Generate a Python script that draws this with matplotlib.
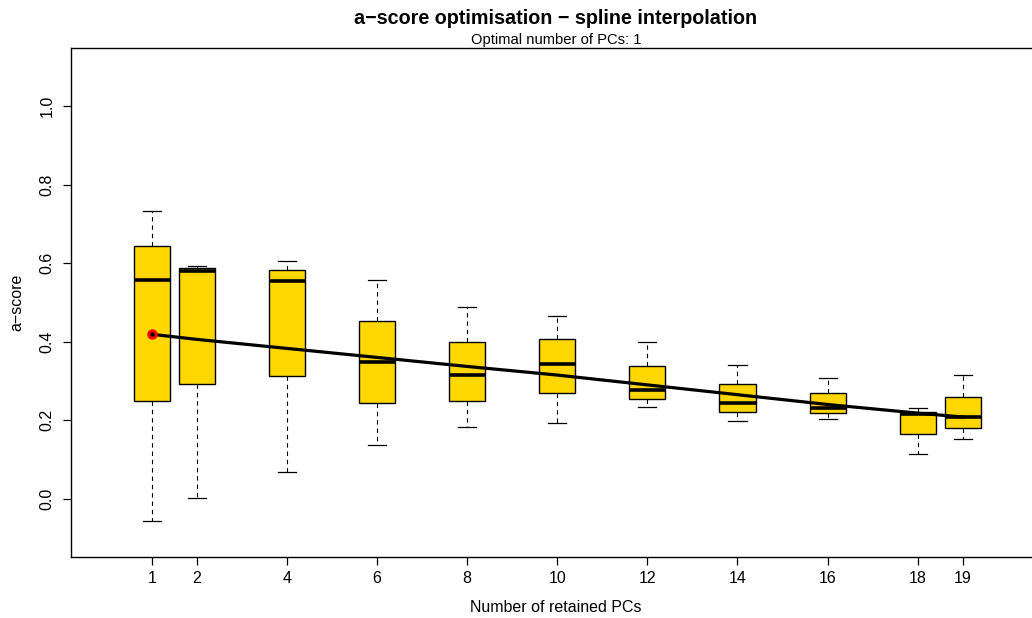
import matplotlib
matplotlib.use("Agg")
import matplotlib.pyplot as plt

plt.rcParams["font.family"] = ["Liberation Sans", "DejaVu Sans"]
plt.rcParams["font.size"] = 11.5

# number of retained PCs tested
n_pcs = [1, 2, 4, 6, 8, 10, 12, 14, 16, 18, 19]

# boxplot stats (a-score)
whisk_lo = [-0.058, 0.001, 0.068, 0.138, 0.182, 0.194, 0.234, 0.197, 0.204, 0.114, 0.153]
q1 = [0.249, 0.291, 0.312, 0.243, 0.248, 0.269, 0.255, 0.221, 0.218, 0.164, 0.181]
med = [0.557, 0.581, 0.556, 0.348, 0.314, 0.344, 0.276, 0.244, 0.232, 0.216, 0.207]
q3 = [0.645, 0.587, 0.582, 0.452, 0.400, 0.406, 0.338, 0.292, 0.269, 0.221, 0.260]
whisk_hi = [0.733, 0.594, 0.607, 0.557, 0.488, 0.466, 0.400, 0.340, 0.307, 0.230, 0.314]

# spline fit evaluated at the tested PCs
spline = [0.419, 0.406, 0.383, 0.360, 0.337, 0.315, 0.290, 0.265, 0.240, 0.218, 0.208]

best_pc = 1
best_score = 0.419

xticks = n_pcs
yticks = [0.0, 0.2, 0.4, 0.6, 0.8, 1.0]

W, H = 1032, 618
fig = plt.figure(figsize=(W / 100, H / 100), dpi=100)
# axes runs past the right edge, like the original device crop
ax = fig.add_axes([70.6 / W, 1 - 556.7 / H, (1043.9 - 70.6) / W, (556.7 - 48.3) / H])

stats = []
for i in range(len(n_pcs)):
    stats.append(dict(whislo=whisk_lo[i], q1=q1[i], med=med[i], q3=q3[i], whishi=whisk_hi[i]))

ax.bxp(stats, positions=n_pcs, widths=0.8, capwidths=0.4, showfliers=False,
       patch_artist=True,
       boxprops=dict(facecolor="#FFD700", edgecolor="black", linewidth=1.0),
       medianprops=dict(color="black", linewidth=2.6, solid_capstyle="butt"),
       whiskerprops=dict(color="black", linewidth=0.8, linestyle=(0, (4, 3.5))),
       capprops=dict(color="black", linewidth=0.9),
       manage_ticks=False)

ax.plot(n_pcs, spline, color="black", linewidth=2.3, zorder=5)
ax.plot([best_pc], [best_score], "o", color="red", markersize=6.5, zorder=6)
ax.plot([best_pc], [best_score], "o", color="black", markersize=2.2, zorder=7)

ax.set_xlim(-0.8, 20.8)
ax.set_ylim(-0.148, 1.148)
ax.set_xticks(xticks)
ax.set_xticklabels([str(x) for x in xticks])
ax.set_yticks(yticks)
ax.set_yticklabels([f"{y:.1f}" for y in yticks], rotation=90, va="center")
ax.tick_params(axis="both", length=5.5, width=0.9, color="black")
ax.tick_params(axis="x", pad=5)
ax.tick_params(axis="y", pad=6)
for s in ax.spines.values():
    s.set_linewidth(1.0)

fig.text(556 / W, 1 - 18 / H, "a\u2212score optimisation \u2212 spline interpolation",
         ha="center", va="center", fontsize=14.2, fontweight="bold")
fig.text(556 / W, 1 - 40 / H, "Optimal number of PCs: 1", ha="center", va="center",
         fontsize=10.6)
fig.text(556 / W, 1 - 607 / H, "Number of retained PCs", ha="center", va="center")
fig.text(17 / W, 1 - 302 / H, "a\u2212score", ha="center", va="center", rotation=90)

fig.savefig("out.png", dpi=100)
